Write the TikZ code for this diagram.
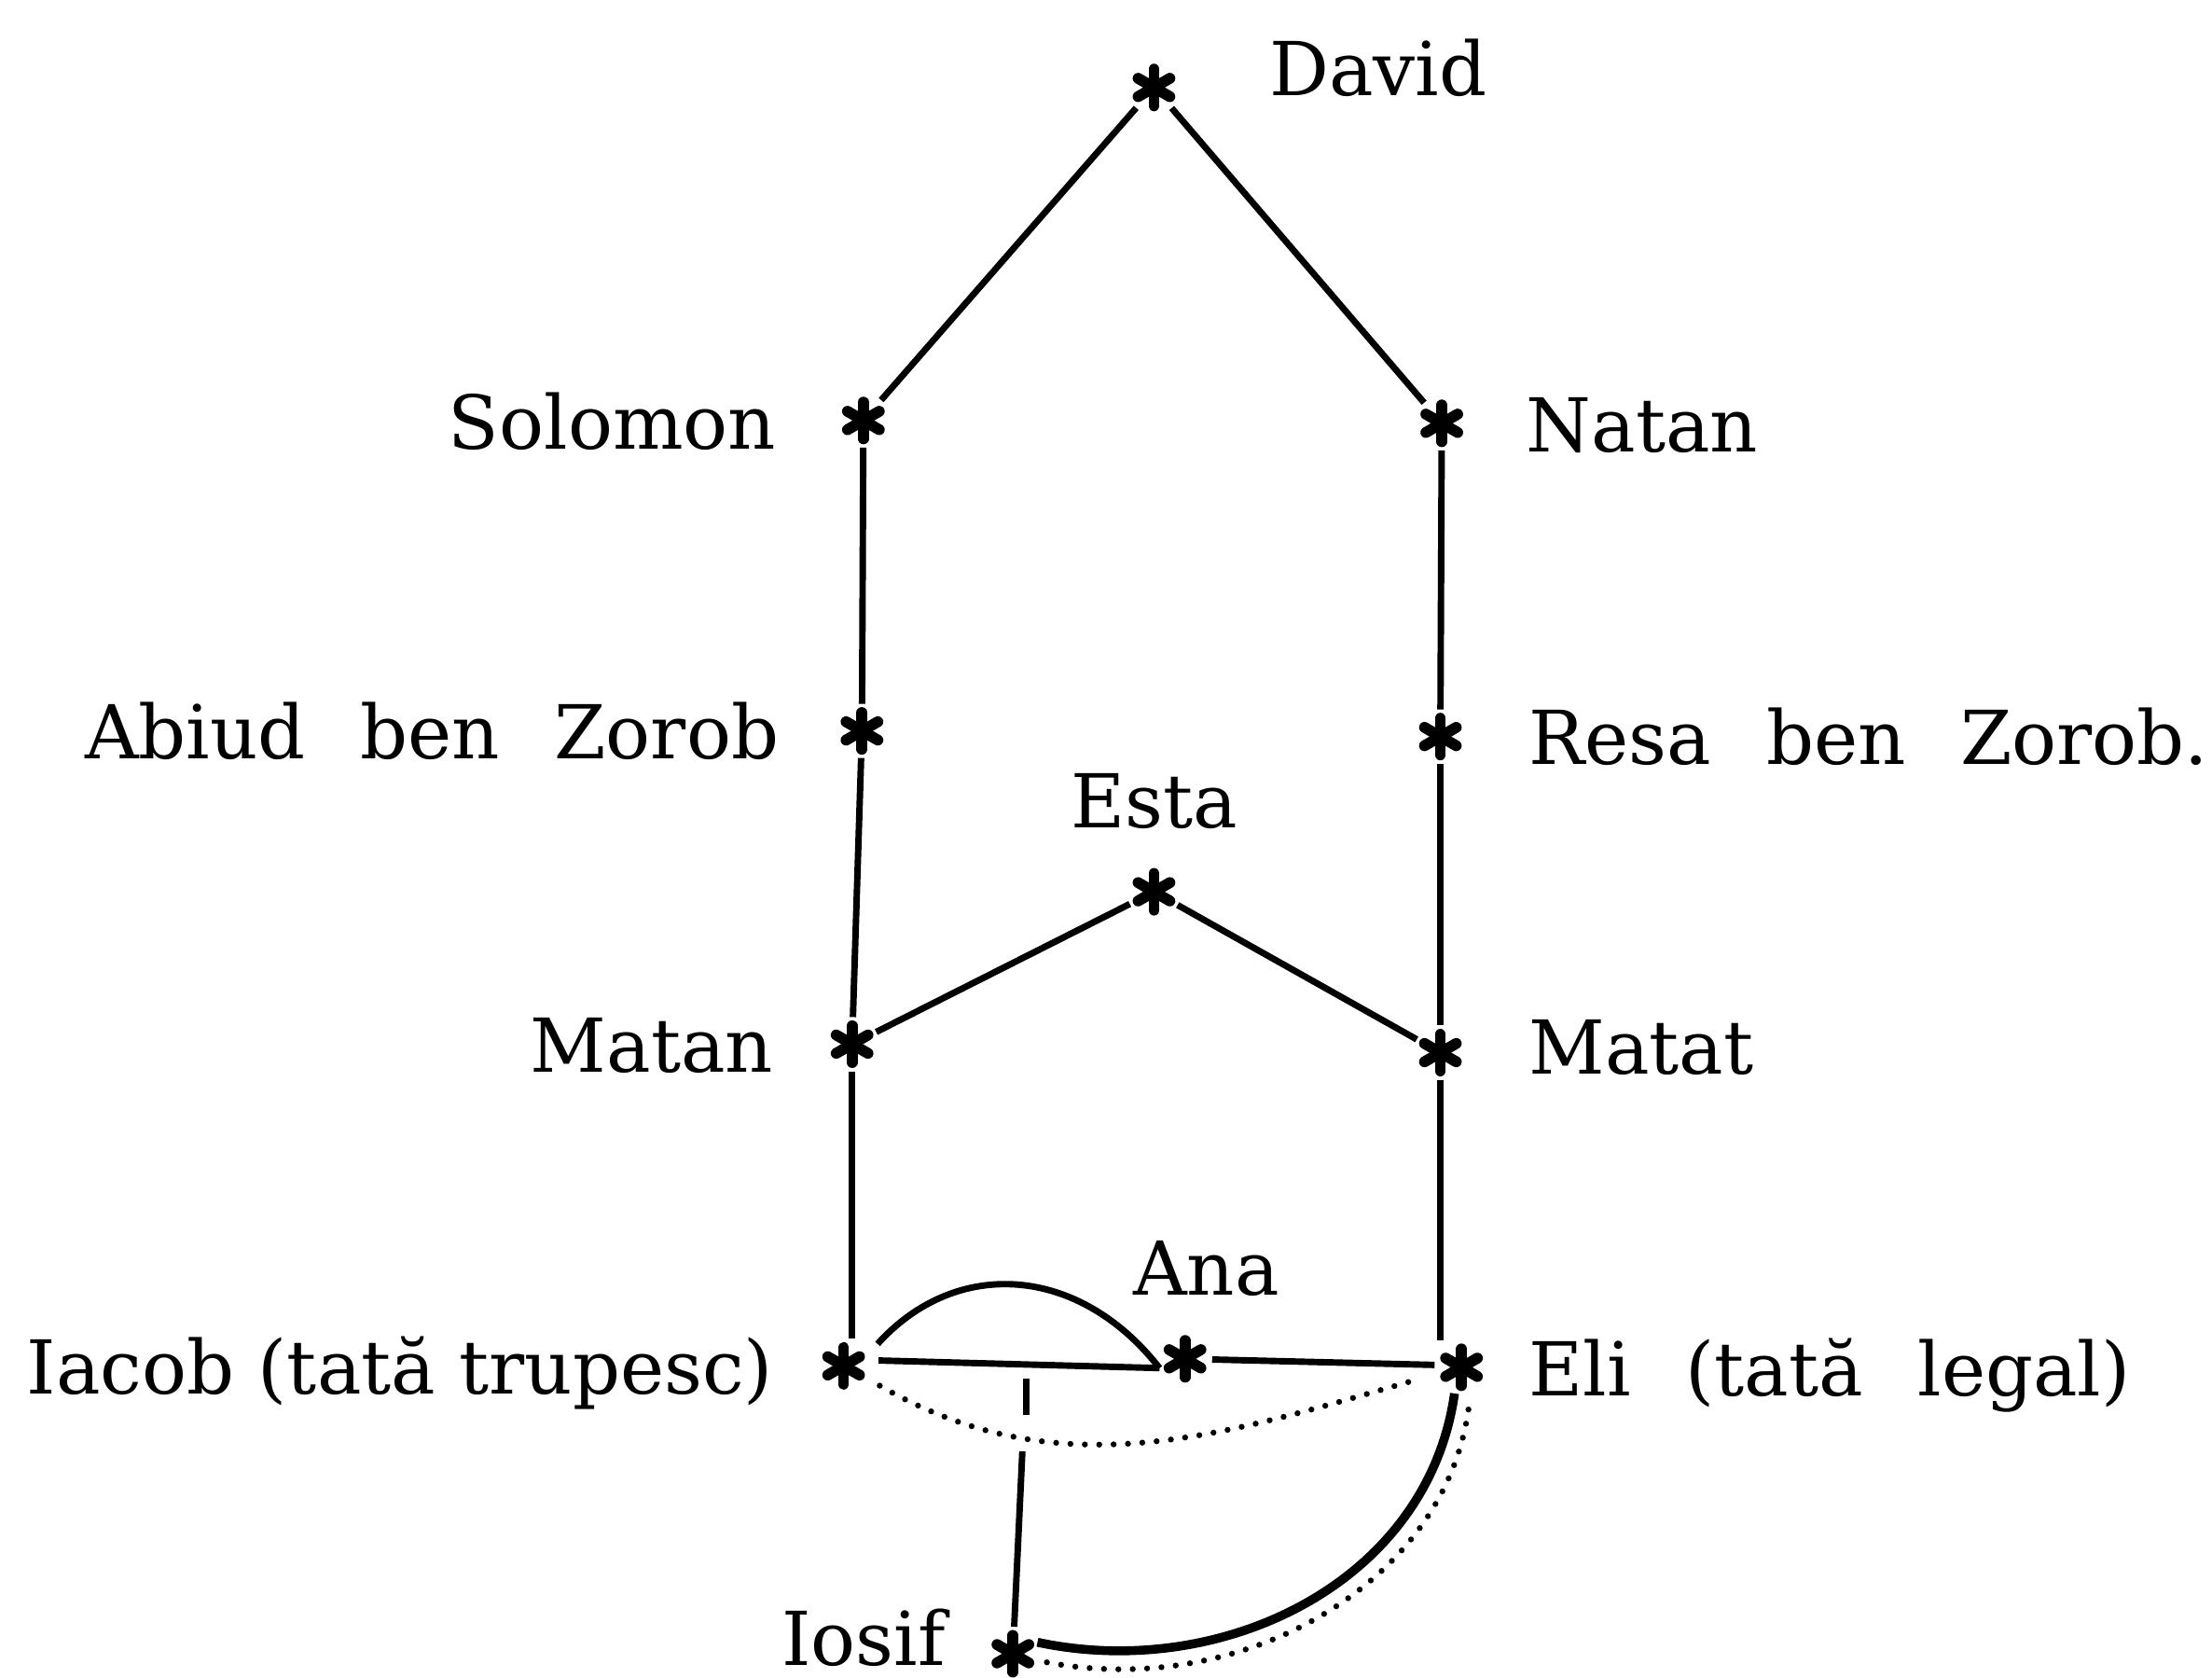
\documentclass[tikz,border=0pt]{standalone}
\usepackage{fontspec}
\setmainfont{DejaVu Serif}
\usetikzlibrary{positioning,calc}

\tikzset{
  ast/.style={circle, inner sep=0pt, minimum size=0.37cm, path picture={
      \foreach \a in {90,30,150}
        \draw[line width=2.2pt, line cap=round] (path picture bounding box.center) ++(\a:0.13) -- ++(\a+180:0.26);}},
  lbl/.style={inner sep=0pt, text height=0.4cm, text depth=0cm, font=\fontsize{15}{18}\selectfont},
  tie/.style={line width=1.3pt},
  dots/.style={line width=1.2pt, line cap=round, dash pattern=on 0pt off 2.9pt},
}
\newcommand{\wsp}{\hspace{0.22cm} }

\begin{document}
\begin{tikzpicture}
        \useasboundingbox (0,0) rectangle (15.68,-11.89);
        % asterisks
        \node[ast] (david) at (8.18,-0.62) {};
        \node[ast] (solomon) at (6.12,-2.98) {};
        \node[ast] (natan) at (10.22,-3.00) {};
        \node[ast] (abiud) at (6.11,-5.18) {};
        \node[ast] (resa) at (10.21,-5.22) {};
        \node[ast] (esta) at (8.18,-6.32) {};
        \node[ast] (matan) at (6.04,-7.40) {};
        \node[ast] (matat) at (10.21,-7.46) {};
        \node[ast] (iacob) at (5.98,-9.68) {};
        \node[ast] (ana) at (8.40,-9.63) {};
        \node[ast] (eli) at (10.36,-9.69) {};
        \node[ast] (iosif) at (7.18,-11.72) {};
        % names
        \node[lbl, right=0.62cm of david, yshift=0.14cm] (davidlbl) {David};
        \node[lbl, left=0.42cm of solomon] (solomonlbl) {Solomon};
        \node[lbl, right=0.40cm of natan] (natanlbl) {Natan};
        \node[lbl, left=0.39cm of abiud] (abiudlbl) {Abiud\wsp ben\wsp Zorob};
        \node[lbl, right=0.43cm of resa] (resalbl) {Resa\wsp ben\wsp Zorob.};
        \node[lbl, above=0.255cm of esta] (estalbl) {Esta};
        \node[lbl, left=0.36cm of matan] (matanlbl) {Matan};
        \node[lbl, right=0.43cm of matat, yshift=0.05cm] (matatlbl) {Matat};
        \node[lbl, left=0.30cm of iacob] (iacoblbl) {Iacob (tată trupesc)};
        \node[lbl, above=0.255cm of ana, xshift=0.15cm] (analbl) {Ana};
        \node[lbl, right=0.28cm of eli] (elilbl) {Eli\wsp (tată\wsp legal)};
        \node[lbl, left=0.28cm of iosif, yshift=0.12cm] (iosiflbl) {Iosif};
        % lines
        \draw[tie] (david) -- (solomon);
        \draw[tie] (david) -- (natan);
        \draw[tie] (solomon) -- (abiud);
        \draw[tie] (abiud) -- (matan);
        \draw[tie] (matan) -- (matan |- iacob.north);
        \draw[tie] (natan) -- (resa);
        \draw[tie] (resa) -- (matat);
        \draw[tie] (matat) -- (matat |- eli.north);
        \draw[tie] (esta) -- (matan);
        \draw[tie] (esta) -- (matat);
        \draw[tie, shorten <=0.06cm] (iacob.12) -- coordinate[pos=0.54] (jn) (ana.200);
        \draw[tie, shorten <=0.1cm] (iacob.25) to[out=48, in=128, looseness=1.15] (ana.200);
        \draw[tie] (ana) -- (eli.175);
        \draw[tie] ($(jn)+(0,-0.10)$) -- ($(jn)+(0,-0.355)$);
        \draw[tie] ($(jn)!0.3!(iosif)$) -- (iosif);
        \draw[dots, shorten <=0.1cm, shorten >=0.12cm] (iacob.-28) to[out=-30, in=196] (eli.195);
        \draw[line width=1.8pt] (eli.-105) to[out=-98, in=-12] (iosif.25);
        \draw[dots, shorten <=0.12cm] (eli.-70) to[out=-98, in=-12] (iosif.-15);
\end{tikzpicture}
\end{document}
